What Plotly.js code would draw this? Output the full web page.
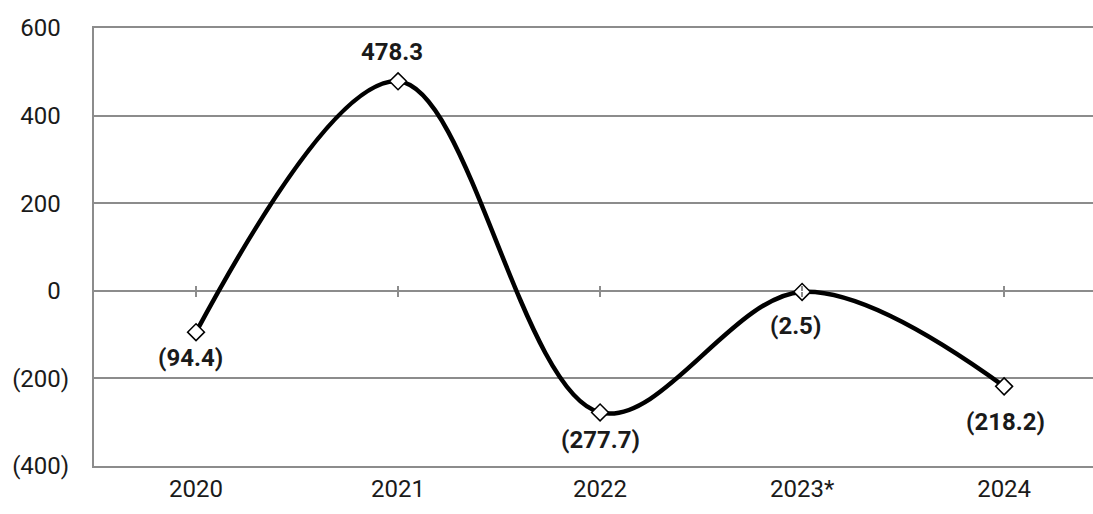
<!DOCTYPE html>
<html>
<head>
<meta charset="utf-8">
<script src="https://cdn.plot.ly/plotly-3.0.1.min.js"></script>
<style>
  html, body { margin: 0; padding: 0; background: #fff; }
  #chart { width: 1093px; height: 514px; }
</style>
</head>
<body>
<div id="chart"></div>
<script>
// Annual values by year (negatives shown in parentheses)
const years = ['2020', '2021', '2022', '2023*', '2024'];
const values = [-94.4, 478.3, -277.7, -2.5, -218.2];
const valueLabels = ['(94.4)', '478.3', '(277.7)', '(2.5)', '(218.2)'];
const yTickVals = [-400, -200, 0, 200, 400, 600];
// positive labels padded so digits line up with the bracketed negatives
const yTickText = ['(400)', '(200)', '0\u00a0\u200a', '200\u00a0\u200a', '400\u00a0\u200a', '600\u00a0\u200a'];

// Label placement relative to each point (pixels)
const labelShiftY = [-26, 29, -28, -34, -36];
const labelShiftX = [-6, -6, 0, -7, 1];

const FONT = 'Roboto, "Liberation Sans", sans-serif';
const GRID = '#8c8c8c';
const TEXT = '#1a1a1a';
const xRange = [-0.505, 4.44];

const line = {
  x: years, y: values,
  type: 'scatter', mode: 'lines+markers',
  line: { color: '#000', width: 4.5, shape: 'spline', smoothing: 1 },
  marker: { symbol: 'diamond', size: 13, color: '#fff', line: { color: '#000', width: 1.5 } },
  hoverinfo: 'x+y', cliponaxis: false
};

// Invisible traces that carry the tick marks crossing the zero line
const tickDown = { x: years, y: values, xaxis: 'x2', type: 'scatter', mode: 'none', hoverinfo: 'skip', showlegend: false };
const tickUp = { x: years, y: values, xaxis: 'x3', type: 'scatter', mode: 'none', hoverinfo: 'skip', showlegend: false };

const annotations = years.map((yr, i) => ({
  x: i, y: values[i], xref: 'x', yref: 'y',
  text: '<b>' + valueLabels[i] + '</b>',
  showarrow: false, xanchor: 'center', yanchor: 'middle',
  xshift: labelShiftX[i], yshift: labelShiftY[i],
  font: { family: FONT, size: 24, color: TEXT }
}));

const zeroAxis = (ticks) => ({
  type: 'category', categoryarray: years, range: xRange,
  overlaying: 'x', anchor: 'free', position: 0.4, side: 'bottom',
  showgrid: false, showline: false, zeroline: false,
  showticklabels: false, ticks: ticks, ticklen: 5, tickwidth: 1.5, tickcolor: GRID
});

const layout = {
  width: 1093, height: 514,
  margin: { l: 94, r: 0, t: 28, b: 48 },
  paper_bgcolor: '#fff', plot_bgcolor: '#fff',
  showlegend: false,
  font: { family: FONT, size: 24, color: TEXT },
  xaxis: {
    type: 'category', categoryarray: years, range: xRange,
    showgrid: false, showline: true, mirror: true, linecolor: GRID, linewidth: 2,
    zeroline: false, ticks: '',
    tickfont: { family: FONT, size: 24, color: TEXT }
  },
  xaxis2: zeroAxis('outside'),
  xaxis3: zeroAxis('inside'),
  yaxis: {
    range: [-400, 600], tickvals: yTickVals, ticktext: yTickText,
    showgrid: true, gridcolor: GRID, gridwidth: 2,
    showline: true, linecolor: GRID, linewidth: 2,
    zeroline: false, ticks: '', ticklabelstandoff: 18,
    tickfont: { family: FONT, size: 24, color: TEXT }
  },
  annotations: annotations
};

Plotly.newPlot('chart', [tickDown, tickUp, line], layout, { displayModeBar: false, staticPlot: true });
</script>
</body>
</html>
